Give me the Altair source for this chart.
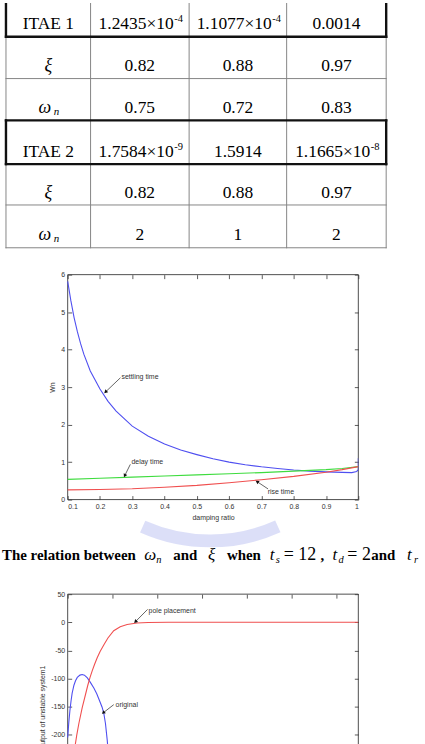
import math
import altair as alt
import pandas as pd

# ---------------- table values ----------------
row_labels = ["ITAE 1", "ξ", "ω_n", "ITAE 2", "ξ", "ω_n"]
col_1 = ["1.2435×10^-4", "0.82", "0.75", "1.7584×10^-9", "0.82", "2"]
col_2 = ["1.1077×10^-4", "0.88", "0.72", "1.5914", "0.88", "1"]
col_3 = ["0.0014", "0.97", "0.83", "1.1665×10^-8", "0.97", "2"]
highlight_rows = ["ITAE 1", "ITAE 2"]

# ---------------- figure 1 : wn vs damping ratio ----------------
xi_settle = [0.10, 0.11, 0.12, 0.13, 0.14, 0.15, 0.17, 0.20, 0.225, 0.25, 0.30, 0.35, 0.40,
             0.45, 0.50, 0.55, 0.60, 0.65, 0.70, 0.75, 0.80, 0.85, 0.90, 0.95, 0.98, 0.995, 1.0, 1.0]
settling = [5.82, 5.3, 4.85, 4.48, 4.16, 3.88, 3.43, 2.95, 2.62, 2.36, 1.96, 1.69, 1.48,
            1.32, 1.20, 1.09, 1.00, 0.93, 0.875, 0.83, 0.79, 0.76, 0.74, 0.725, 0.72, 0.75, 0.80, 1.10]
xi_grid = [0.1, 0.2, 0.3, 0.4, 0.5, 0.6, 0.7, 0.8, 0.9, 0.95, 1.0]
delay = [0.54, 0.57, 0.60, 0.63, 0.66, 0.69, 0.72, 0.76, 0.80, 0.83, 0.88]
rise = [0.26, 0.27, 0.29, 0.33, 0.38, 0.45, 0.53, 0.62, 0.73, 0.80, 0.88]
fig1_series = ["settling time", "delay time", "rise time"]
fig1_colors = ["#4f4ff0", "#3fdc3f", "#f04f4f"]
fig1_xticks = [0.1, 0.2, 0.3, 0.4, 0.5, 0.6, 0.7, 0.8, 0.9, 1]
fig1_yticks = [0, 1, 2, 3, 4, 5, 6]
fig1_notes = ["settling time", "delay time", "rise time"]
fig1_note_x = [0.2664, 0.2973, 0.7195]
fig1_note_y = [3.27, 1.01, 0.21]
fig1_arrow_from_x = [0.2634, 0.2940, 0.7205]
fig1_arrow_from_y = [3.25, 0.94, 0.284]
fig1_arrow_to_x = [0.2171, 0.2766, 0.6866]
fig1_arrow_to_y = [2.87, 0.637, 0.478]

# ---------------- figure 2 : unstable system ----------------
t_orig = [0, 0.05, 0.1, 0.15, 0.2, 0.28, 0.35, 0.43, 0.55, 0.65, 0.75, 0.88, 1.0, 1.17,
          1.3, 1.39, 1.54, 1.62, 1.69, 1.77, 1.85, 1.95, 2.02]
orig = [-205, -178, -157, -140, -126, -112, -104, -98, -94, -93, -94, -99, -106, -117,
        -127, -136, -151, -163, -180, -210, -250, -310, -360]
t_pole = [0.2, 0.3, 0.4, 0.5, 0.65, 0.8, 0.9, 1.0, 1.1, 1.2, 1.32, 1.45, 1.62, 1.8, 2.06,
          2.35, 2.66, 3.1, 3.6, 4.5, 13]
pole = [-262, -228, -202, -180, -152, -128, -112, -98, -86, -75, -63, -52, -40, -28, -15,
        -8, -4, -1.2, -0.3, 0, 0]
fig2_series = ["original", "pole placement"]
fig2_colors = ["#4f4ff0", "#f04f4f"]
fig2_xticks = [0, 2, 4, 6, 8, 10, 12]
fig2_yticks = [50, 0, -50, -100, -150, -200, -250, -300, -350]
fig2_notes = ["pole placement", "original"]
fig2_note_x = [3.62, 2.14]
fig2_note_y = [19.9, -146.5]
fig2_arrow_from_x = [3.575, 2.06]
fig2_arrow_from_y = [22.9, -146.5]
fig2_arrow_to_x = [3.03, 1.59]
fig2_arrow_to_y = [1.0, -161]

caption_bold = ["The relation between", "and", "when", ",", "and"]
caption_italic = ["ω", "ξ", "t", "t", "t"]
caption_sub = ["n", "s", "d", "r"]
caption_regular = ["= 12", "= 2"]

SERIF = "Liberation Serif"
SANS = "Liberation Sans"
INK = "#333333"

# ======================= table =======================
ncols = 4
nrows = len(row_labels)
xs_t = alt.Scale(domain=list(range(ncols + 1)), range=[5, 90, 189, 287, 387], nice=False, zero=False)
ys_t = alt.Scale(domain=list(range(nrows + 1)), range=[-8, 34, 76, 118, 162, 203, 246], nice=False, zero=False)

hi = [i for i, l in enumerate(row_labels) if l in highlight_rows]
h_df = pd.DataFrame([dict(b=b, x0=0, x1=ncols,
                          kind="thick" if (b in hi or (b - 1) in hi) else "thin")
                     for b in range(nrows + 1)])
v_df = pd.DataFrame([dict(e=e, b0=0, b1=nrows, kind="thin") for e in range(ncols + 1)]
                    + [dict(e=e, b0=r, b1=r + 1, kind="thick") for r in hi for e in (0, ncols)])

RULE_STYLE = {"thin": dict(color="#858585", strokeWidth=1.0),
              "thick": dict(color="#111111", strokeWidth=2.4)}


def hrules(df, kind):
    return alt.Chart(df[df.kind == kind]).mark_rule(clip=True, strokeCap="square", **RULE_STYLE[kind]).encode(
        x=alt.X("x0:Q", scale=xs_t, axis=None), x2="x1:Q",
        y=alt.Y("b:Q", scale=ys_t, axis=None))


def vrules(df, kind):
    return alt.Chart(df[df.kind == kind]).mark_rule(clip=True, strokeCap="square", **RULE_STYLE[kind]).encode(
        x=alt.X("e:Q", scale=xs_t, axis=None),
        y=alt.Y("b0:Q", scale=ys_t, axis=None), y2="b1:Q")


plain, mant, expo, greek, gsub = [], [], [], [], []
for r in range(nrows):
    lab = row_labels[r]
    if "_" in lab:
        g, s = lab.split("_")
        greek.append(dict(c=0.5, r=r + 1, t=g, dx=-3.5))
        gsub.append(dict(c=0.5, r=r + 1, t=s))
    elif lab in highlight_rows:
        plain.append(dict(c=0.5, r=r + 1, t=lab))
    else:
        greek.append(dict(c=0.5, r=r + 1, t=lab, dx=0))
    for c, col in enumerate([col_1, col_2, col_3], start=1):
        v = col[r]
        if "^" in v:
            m, e = v.split("^")
            mant.append(dict(c=c + 0.5, r=r + 1, t=m))
            expo.append(dict(c=c + 0.5, r=r + 1, t=e))
        else:
            plain.append(dict(c=c + 0.5, r=r + 1, t=v))


def tl(rows, **mk):
    return alt.Chart(pd.DataFrame(rows)).mark_text(font=SERIF, baseline="alphabetic", color="black", **mk).encode(
        x=alt.X("c:Q", scale=xs_t, axis=None), y=alt.Y("r:Q", scale=ys_t, axis=None), text="t:N")


greek_df = pd.DataFrame(greek)
greek_layers = [
    alt.Chart(greek_df[greek_df.dx == d]).mark_text(
        font=SERIF, baseline="alphabetic", color="black", fontSize=18, fontStyle="italic",
        align="center", dx=float(d), dy=-7.5).encode(
        x=alt.X("c:Q", scale=xs_t, axis=None), y=alt.Y("r:Q", scale=ys_t, axis=None), text="t:N")
    for d in sorted(greek_df.dx.unique())
]

table = alt.layer(
    hrules(h_df, "thin"), vrules(v_df, "thin"),
    hrules(h_df, "thick"), vrules(v_df, "thick"),
    tl(plain, fontSize=17.5, align="center", dy=-7.5),
    tl(mant, fontSize=17.5, align="right", dx=34, dy=-7.5),
    tl(expo, fontSize=10.5, align="left", dx=34.5, dy=-14.5),
    *greek_layers,
    tl(gsub, fontSize=11, fontStyle="italic", align="left", dx=5.5, dy=-5.5),
).properties(width=425, height=273)

# ======================= plot panels =======================
PLOT_LEFT, PLOT_RIGHT = 67, 359


def panel(names, colors, xs_list, ys_list, xdom, ydom, xticks, yticks, xtitle, ytitle,
          notes_df, arrows_df, xlabels=True):
    xs = alt.Scale(domain=xdom, range=[PLOT_LEFT, PLOT_RIGHT], nice=False, zero=False)
    ys = alt.Scale(domain=ydom, nice=False, zero=False)
    ticks = dict(tickColor=INK, tickSize=4, tickWidth=0.8, domain=False, grid=False)
    lab = dict(labelFont=SANS, labelFontSize=7, labelColor=INK, labelPadding=3,
               titleFont=SANS, titleFontSize=7, titleFontWeight="normal", titleColor=INK,
               labelExpr="'' + datum.value")
    box_df = pd.DataFrame(dict(x0=[xdom[0]], x1=[xdom[1]], y0=[ydom[0]], y1=[ydom[1]]))
    box = alt.Chart(box_df).mark_rect(fillOpacity=0, stroke="#3a3a3a", strokeWidth=0.9).encode(
        x=alt.X("x0:Q", scale=xs, axis=alt.Axis(orient="bottom", values=xticks, title=xtitle,
                                                 labels=xlabels, titlePadding=4, offset=-4,
                                                 **ticks, **lab)),
        y=alt.Y("y0:Q", scale=ys, axis=alt.Axis(orient="left", values=yticks, title=ytitle,
                                                 titlePadding=5, offset=-(PLOT_LEFT + 4), **ticks, **lab)),
        x2="x1:Q", y2="y1:Q")
    layers = [box]
    for n, col, xv, yv in zip(names, colors, xs_list, ys_list):
        df = pd.DataFrame(dict(x=xv, y=yv, i=list(range(len(xv)))))
        layers.append(alt.Chart(df).mark_line(strokeWidth=1.1, clip=True, color=col).encode(
            x=alt.X("x:Q", scale=xs, axis=None), y=alt.Y("y:Q", scale=ys, axis=None),
            order=alt.Order("i:Q")))
    shafts = alt.Chart(arrows_df).mark_rule(color="#222222", strokeWidth=0.7).encode(
        x=alt.X("x0:Q", scale=xs, axis=alt.Axis(orient="top", values=xticks, labels=False, title="",
                                                 offset=-4, **ticks)),
        y=alt.Y("y0:Q", scale=ys, axis=alt.Axis(orient="right", values=yticks, labels=False, title="",
                                                 offset=-4, **ticks)),
        x2="x1:Q", y2="y1:Q")
    heads = alt.Chart(arrows_df).mark_point(shape="triangle-up", filled=True, size=16,
                                            color="#111111", opacity=1).encode(
        x=alt.X("x1:Q", scale=xs, axis=None), y=alt.Y("y1:Q", scale=ys, axis=None),
        angle=alt.Angle("ang:Q", scale=None))
    texts = alt.Chart(notes_df).mark_text(align="left", baseline="middle", font=SANS,
                                          fontSize=7, color=INK).encode(
        x=alt.X("x:Q", scale=xs, axis=None), y=alt.Y("y:Q", scale=ys, axis=None), text="t:N")
    return alt.layer(*layers, shafts, heads, texts).resolve_axis(
        x="independent", y="independent").properties(width=PLOT_RIGHT, height=226)


def arrows(fx, fy, tx, ty, sx, sy):
    rows = []
    for a, b, c, d in zip(fx, fy, tx, ty):
        dxp = (c - a) * sx
        dyp = -(d - b) * sy
        ang = math.degrees(math.atan2(dxp, -dyp)) % 360
        rows.append(dict(x0=a, y0=b, x1=c, y1=d, ang=ang))
    return pd.DataFrame(rows)


pw = PLOT_RIGHT - PLOT_LEFT
p1 = panel(
    fig1_series, fig1_colors, [xi_settle, xi_grid, xi_grid], [settling, delay, rise],
    [0.1, 1.0], [0, 6], fig1_xticks, fig1_yticks, "damping ratio", "Wn",
    pd.DataFrame(dict(t=fig1_notes, x=fig1_note_x, y=fig1_note_y)),
    arrows(fig1_arrow_from_x, fig1_arrow_from_y, fig1_arrow_to_x, fig1_arrow_to_y, pw / 0.9, 226 / 6),
)

p2 = panel(
    fig2_series, fig2_colors, [t_orig, t_pole], [orig, pole],
    [0, 13], [-350, 50], fig2_xticks, fig2_yticks, "", "output of unstable system1",
    pd.DataFrame(dict(t=fig2_notes, x=fig2_note_x, y=fig2_note_y)),
    arrows(fig2_arrow_from_x, fig2_arrow_from_y, fig2_arrow_to_x, fig2_arrow_to_y, pw / 13, 226 / 400),
    xlabels=False,
)

# ======================= caption =======================
bold_x = [1, 173, 227, 321, 372]
ital_x = [144, 208, 270, 333, 408]
sub_x = [156, 276, 339, 415]
reg_x = [284, 348]


def cap(texts, xs_px, y, **mk):
    return alt.Chart(pd.DataFrame(dict(t=texts, px=xs_px))).mark_text(
        align="left", baseline="alphabetic", font=SERIF, color="black", **mk).encode(
        x=alt.X("px:Q", scale=None), y=alt.value(y), text="t:N")


mark_df = pd.DataFrame({"v": [0]})
watermark = alt.Chart(mark_df).mark_arc(color="#d3d7f6", opacity=0.8).encode(
    x=alt.value(210), y=alt.value(-125),
    theta=alt.value(2.72), theta2=alt.value(3.56),
    radius=alt.value(160), radius2=alt.value(173))

caption = alt.layer(
    watermark,
    cap(caption_bold, bold_x, 61, fontSize=15, fontWeight="bold"),
    cap(caption_italic, ital_x, 61, fontSize=17, fontStyle="italic"),
    cap(caption_sub, sub_x, 64, fontSize=10.5, fontStyle="italic"),
    cap(caption_regular, reg_x, 61, fontSize=18),
).properties(width=425, height=95)

chart = alt.vconcat(
    table, p1, caption, p2,
    spacing=0, bounds="flush",
).properties(padding=0).configure_view(stroke="transparent")

chart.save("out.html", embed_options={"renderer": "svg", "actions": False})
